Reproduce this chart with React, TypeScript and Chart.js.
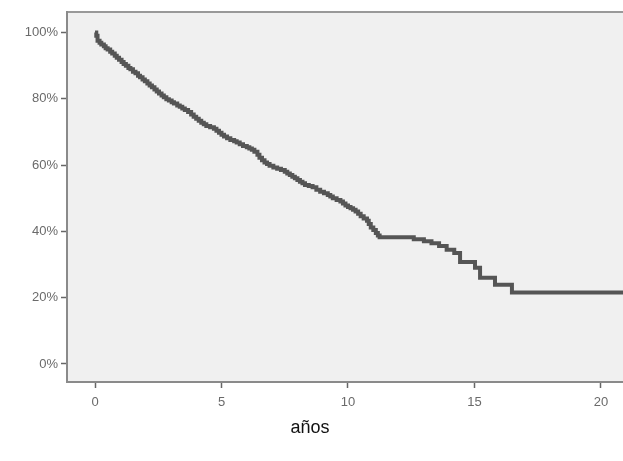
import { useEffect, useRef } from "react";
import { Chart, registerables } from "chart.js";

Chart.register(...registerables);

// Kaplan-Meier survival estimate: event times (years) and survival (%)
const years = [
  0, 0.05, 0.1, 0.18, 0.25, 0.35, 0.42, 0.5, 0.6, 0.68, 0.78, 0.86, 0.95, 1.05, 1.13,
  1.22, 1.32, 1.4, 1.5, 1.6, 1.7, 1.78, 1.88, 1.97, 2.07, 2.16, 2.25, 2.35, 2.44,
  2.53, 2.63, 2.72, 2.82, 2.92, 3.03, 3.12, 3.25, 3.35, 3.45, 3.55, 3.68, 3.8, 3.9,
  4.0, 4.1, 4.2, 4.3, 4.4, 4.55, 4.7, 4.8, 4.9, 5.0, 5.1, 5.22, 5.35, 5.5, 5.6, 5.72,
  5.85, 6.0, 6.1, 6.2, 6.3, 6.42, 6.5, 6.6, 6.7, 6.8, 6.9, 7.05, 7.2, 7.35, 7.5, 7.6,
  7.7, 7.8, 7.9, 8.0, 8.1, 8.2, 8.3, 8.45, 8.6, 8.75, 8.9, 9.05, 9.2, 9.3, 9.4, 9.55,
  9.7, 9.8, 9.9, 10.0, 10.1, 10.2, 10.3, 10.4, 10.5, 10.62, 10.75, 10.82, 10.9,
  11.0, 11.1, 11.18, 11.25, 12.6, 13.0, 13.3, 13.6, 13.9, 14.2, 14.43, 15.02, 15.22,
  15.81, 16.48, 20.87,
];
const survival = [
  100, 99, 97.5, 96.9, 96.4, 95.9, 95.3, 94.9, 94.2, 93.7, 93.0, 92.4, 91.8, 91.1,
  90.5, 90.0, 89.3, 88.9, 88.2, 87.7, 87.0, 86.5, 85.8, 85.3, 84.6, 84.0, 83.5, 82.8,
  82.2, 81.6, 81.0, 80.5, 79.9, 79.5, 79.0, 78.6, 78.0, 77.6, 77.1, 76.6, 76.0, 75.3,
  74.6, 74.0, 73.4, 72.8, 72.3, 71.8, 71.4, 71.0, 70.4, 69.8, 69.2, 68.6, 68.1, 67.6,
  67.2, 66.8, 66.3, 65.8, 65.4, 65.0, 64.6, 64.0, 63.1, 62.2, 61.5, 60.8, 60.3, 59.8,
  59.3, 58.9, 58.5, 58.0, 57.5, 57.0, 56.5, 56.0, 55.5, 55.0, 54.5, 54.0, 53.7, 53.3,
  52.6, 52.0, 51.5, 51.0, 50.5, 50.0, 49.5, 49.0, 48.4, 47.8, 47.4, 47.0, 46.5, 46.0,
  45.3, 44.6, 43.9, 43.2, 42.2, 41.2, 40.4, 39.5, 38.8, 38.2, 37.6, 37.0, 36.4, 35.6,
  34.5, 33.5, 30.8, 29.0, 26.0, 23.9, 21.6, 21.6,
];
const xTicks = [0, 5, 10, 15, 20];
const yTicks = [0, 20, 40, 60, 80, 100];

const plotFrame = {
  id: "plotFrame",
  beforeDraw(chart: any) {
    const { ctx, chartArea } = chart;
    const { left, top, right, bottom } = chartArea;
    ctx.save();
    ctx.fillStyle = "#f0f0f0";
    ctx.fillRect(left, top, right - left, bottom - top);
    ctx.strokeStyle = "#999999";
    ctx.lineWidth = 2;
    ctx.beginPath();
    ctx.moveTo(left, top);
    ctx.lineTo(right, top);
    ctx.stroke();
    ctx.restore();
  },
};

export default function App() {
  const canvasRef = useRef<HTMLCanvasElement | null>(null);

  useEffect(() => {
    const canvas = canvasRef.current;
    if (!canvas) return;
    const tickFont = { family: "'Liberation Sans', Arial, sans-serif", size: 13 };
    const chart = new Chart(canvas, {
      type: "line",
      data: {
        datasets: [
          {
            data: years.map((t, i) => ({ x: t, y: survival[i] })),
            borderColor: "#555555",
            borderWidth: 4,
            pointRadius: 0,
            stepped: true,
            fill: false,
          },
        ],
      },
      options: {
        responsive: false,
        animation: false,
        events: [],
        layout: { padding: { top: 12, right: 0, left: 0, bottom: 0 } },
        plugins: { legend: { display: false }, tooltip: { enabled: false } },
        scales: {
          x: {
            type: "linear",
            min: -1.107,
            max: 20.87,
            afterBuildTicks: (axis: any) => {
              axis.ticks = xTicks.map((v) => ({ value: v }));
            },
            afterFit: (axis: any) => {
              axis.height = 79;
            },
            grid: {
              drawOnChartArea: false,
              drawTicks: true,
              tickLength: 6,
              tickColor: "#666666",
              tickWidth: 1.5,
            },
            border: { display: true, color: "#8a8a8a", width: 2 },
            ticks: {
              color: "#6a6a6a",
              font: tickFont,
              padding: 7,
              maxRotation: 0,
              callback: (v: any) => String(v),
            },
          },
          y: {
            type: "linear",
            min: -5.44,
            max: 106.2,
            afterBuildTicks: (axis: any) => {
              axis.ticks = yTicks.map((v) => ({ value: v }));
            },
            afterFit: (axis: any) => {
              axis.width = 67;
            },
            grid: {
              drawOnChartArea: false,
              drawTicks: true,
              tickLength: 6,
              tickColor: "#666666",
              tickWidth: 1.5,
            },
            border: { display: true, color: "#8a8a8a", width: 2 },
            ticks: {
              color: "#6a6a6a",
              font: tickFont,
              padding: 3,
              callback: (v: any) => `${v}%`,
            },
          },
        },
      },
      plugins: [plotFrame],
    });
    return () => chart.destroy();
  }, []);

  return (
    <div
      style={{
        position: "fixed",
        left: 0,
        top: 0,
        width: 623,
        height: 461,
        background: "#ffffff",
        overflow: "hidden",
      }}
    >
      <canvas ref={canvasRef} width={623} height={461} style={{ display: "block" }} />
      <div
        style={{
          position: "absolute",
          left: 310,
          top: 427,
          transform: "translate(-50%, -50%)",
          fontFamily: "'Liberation Sans', Arial, sans-serif",
          fontSize: 18,
          color: "#111111",
          whiteSpace: "nowrap",
        }}
      >
        años
      </div>
    </div>
  );
}
